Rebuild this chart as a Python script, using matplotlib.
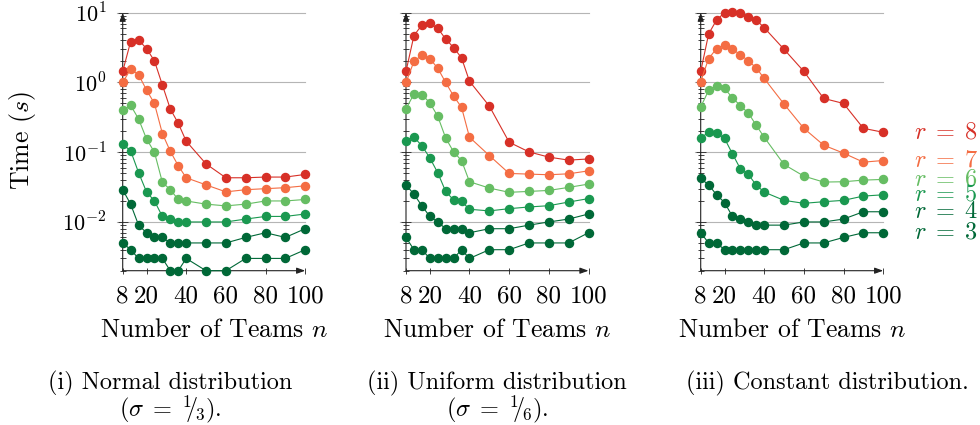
import matplotlib
matplotlib.use("Agg")
import matplotlib.pyplot as plt
from matplotlib.ticker import LogLocator, NullFormatter, FixedLocator

plt.rcParams['font.family'] = 'serif'
plt.rcParams['font.serif'] = ['cmr10']
plt.rcParams['mathtext.fontset'] = 'cm'
plt.rcParams['axes.formatter.use_mathtext'] = True

# ---------------- data ----------------
teams = [8, 12, 16, 20, 24, 28, 32, 36, 40, 50, 60, 70, 80, 90, 100]
r_values = [8, 7, 6, 5, 4, 3]

normal_r8 = [1.44, 3.85, 4.07, 3.06, 2.04, 0.92, 0.416, 0.26, 0.144, 0.068, 0.043, 0.043, 0.044, 0.044, 0.048]
normal_r7 = [1.0, 1.55, 1.29, 0.78, 0.50, 0.185, 0.103, 0.064, 0.043, 0.034, 0.027, 0.029, 0.030, 0.031, 0.033]
normal_r6 = [0.40, 0.47, 0.30, 0.155, 0.10, 0.037, 0.029, 0.021, 0.020, 0.018, 0.017, 0.018, 0.020, 0.020, 0.021]
normal_r5 = [0.13, 0.105, 0.051, 0.027, 0.020, 0.012, 0.011, 0.010, 0.010, 0.010, 0.010, 0.011, 0.012, 0.012, 0.013]
normal_r4 = [0.029, 0.018, 0.009, 0.007, 0.006, 0.006, 0.005, 0.005, 0.005, 0.005, 0.005, 0.006, 0.007, 0.006, 0.008]
normal_r3 = [0.005, 0.004, 0.003, 0.003, 0.003, 0.003, 0.002, 0.002, 0.003, 0.002, 0.002, 0.003, 0.003, 0.003, 0.004]

uniform_r8 = [1.44, 4.69, 6.67, 7.04, 5.97, 4.2, 3.16, 2.25, 1.04, 0.459, 0.139, 0.101, 0.085, 0.077, 0.080]
uniform_r7 = [1.0, 2.0, 2.46, 2.2, 1.6, 1.0, 0.638, 0.44, 0.164, 0.0896, 0.0496, 0.0485, 0.0475, 0.049, 0.054]
uniform_r6 = [0.42, 0.68, 0.67, 0.513, 0.327, 0.16, 0.101, 0.076, 0.0377, 0.0306, 0.0266, 0.0274, 0.0283, 0.0313, 0.0349]
uniform_r5 = [0.147, 0.164, 0.124, 0.083, 0.0507, 0.0274, 0.0206, 0.0197, 0.0152, 0.0144, 0.0155, 0.0164, 0.0171, 0.0193, 0.0216]
uniform_r4 = [0.034, 0.025, 0.017, 0.012, 0.010, 0.008, 0.008, 0.008, 0.007, 0.008, 0.008, 0.009, 0.010, 0.011, 0.013]
uniform_r3 = [0.006, 0.004, 0.004, 0.003, 0.003, 0.003, 0.003, 0.004, 0.003, 0.004, 0.004, 0.005, 0.005, 0.005, 0.007]

constant_r8 = [1.44, 4.96, 7.86, 10.0, 10.3, 10.0, 8.58, 7.86, 6.1, 2.99, 1.44, 0.59, 0.50, 0.22, 0.193]
constant_r7 = [1.03, 2.2, 3.06, 3.41, 2.99, 2.51, 2.04, 1.62, 1.14, 0.49, 0.22, 0.126, 0.097, 0.072, 0.076]
constant_r6 = [0.445, 0.769, 0.896, 0.82, 0.604, 0.464, 0.365, 0.243, 0.164, 0.0667, 0.0454, 0.0373, 0.0377, 0.0398, 0.0407]
constant_r5 = [0.158, 0.195, 0.189, 0.158, 0.0947, 0.0578, 0.048, 0.0338, 0.0268, 0.0204, 0.0185, 0.0195, 0.0204, 0.0235, 0.0245]
constant_r4 = [0.042, 0.034, 0.0245, 0.019, 0.012, 0.011, 0.010, 0.009, 0.009, 0.009, 0.010, 0.010, 0.011, 0.014, 0.014]
constant_r3 = [0.007, 0.005, 0.005, 0.004, 0.004, 0.004, 0.004, 0.004, 0.004, 0.004, 0.005, 0.005, 0.006, 0.007, 0.007]

panels = [
    [normal_r8, normal_r7, normal_r6, normal_r5, normal_r4, normal_r3],
    [uniform_r8, uniform_r7, uniform_r6, uniform_r5, uniform_r4, uniform_r3],
    [constant_r8, constant_r7, constant_r6, constant_r5, constant_r4, constant_r3],
]
colors = ['#d73027', '#f46d43', '#66bd63', '#1a9850', '#006837', '#006837']

x_ticks = [8, 20, 40, 60, 80, 100]
y_major = [1e-2, 1e-1, 1e0, 1e1]
y_major_labels = [r'$10^{-2}$', r'$10^{-1}$', r'$10^{0}$', r'$10^{1}$']
xlabel = r'Number of Teams $n$'
ylabel = r'Time ($s$)'
captions = [
    ['(i) Normal distribution', r'$(\sigma\;=\;{}^{1}\!\!/\!{}_{3})$.'],
    ['(ii) Uniform distribution', r'$(\sigma\;=\;{}^{1}\!\!/\!{}_{6})$.'],
    ['(iii) Constant distribution.'],
]

# ---------------- figure ----------------
W, H = 980, 425
fig = plt.figure(figsize=(W / 100, H / 100), dpi=100)

lefts = [122.7, 406.0, 700.7]
ax_w = 182.5
top_px, bot_px = 12.7, 270.7
caption_cx = [170, 497, 827]
fs_xtick = 18
fs_ytick = 16
fs_label = 18.5
fs_cap = 17.5
fs_leg = 17.5
axcol = '#222222'

for i, (left, series) in enumerate(zip(lefts, panels)):
    ax = fig.add_axes([left / W, 1 - bot_px / H, ax_w / W, (bot_px - top_px) / H])
    ax.set_yscale('log')
    ax.set_xlim(8, 100)
    ax.set_ylim(0.002, 10)
    for s in ax.spines.values():
        s.set_visible(False)
    ax.patch.set_alpha(0)

    # grid lines
    for yv in y_major:
        ax.axhline(yv, xmin=-0.033, xmax=1.0, color='#b5b5b5', lw=0.8, clip_on=False, zorder=0)

    # axis arrows
    ax.annotate('', xy=(1.0, 0), xytext=(0, 0), xycoords='axes fraction',
                arrowprops=dict(arrowstyle='-|>,head_length=0.5,head_width=0.18', color=axcol, lw=0.8,
                                shrinkA=0, shrinkB=0), zorder=1)
    ax.annotate('', xy=(0, 1.0), xytext=(0, 0), xycoords='axes fraction',
                arrowprops=dict(arrowstyle='-|>,head_length=0.5,head_width=0.18', color=axcol, lw=0.8,
                                shrinkA=0, shrinkB=0), zorder=1)

    for vals, c in zip(series, colors):
        ax.plot(teams, vals, '-o', color=c, lw=0.8, ms=5.8, mec=c, clip_on=False, zorder=3)

    ax.xaxis.set_major_locator(FixedLocator(x_ticks))
    ax.set_xticklabels([str(t) for t in x_ticks], fontsize=fs_xtick)
    ax.yaxis.set_major_locator(FixedLocator(y_major))
    ax.yaxis.set_minor_locator(LogLocator(base=10, subs=range(2, 10), numticks=20))
    ax.yaxis.set_minor_formatter(NullFormatter())
    if i == 0:
        ax.set_yticklabels(y_major_labels, fontsize=fs_ytick)
    else:
        ax.set_yticklabels([])
    ax.tick_params(axis='x', which='major', direction='inout', length=5, width=0.6, color=axcol, pad=8)
    ax.tick_params(axis='y', which='major', direction='inout', length=7, width=0.6, color=axcol, pad=8)
    ax.tick_params(axis='y', which='minor', direction='inout', length=5, width=0.6, color=axcol)
    ax.tick_params(axis='x', which='minor', bottom=False)

    cx = (left + ax_w / 2) / W
    fig.text(cx, 1 - 330 / H, xlabel, ha='center', va='center', fontsize=fs_label)

    cap = captions[i]
    fig.text(caption_cx[i] / W, 1 - 383 / H, cap[0], ha='center', va='center', fontsize=fs_cap)
    if len(cap) > 1:
        fig.text(caption_cx[i] / W, 1 - 409 / H, cap[1], ha='center', va='center', fontsize=fs_cap)

    if i == 2:
        for r, vals, c in zip(r_values, series, colors):
            ax.annotate(r'$r\;=\;%d$' % r, xy=(teams[-1], vals[-1]), xytext=(22, 0),
                        textcoords='offset points', ha='left', va='center', fontsize=fs_leg,
                        color=c, annotation_clip=False)

fig.text(22 / W, 1 - 141 / H, ylabel, rotation=90, ha='center', va='center', fontsize=fs_label)

fig.savefig('out.png', dpi=100)
